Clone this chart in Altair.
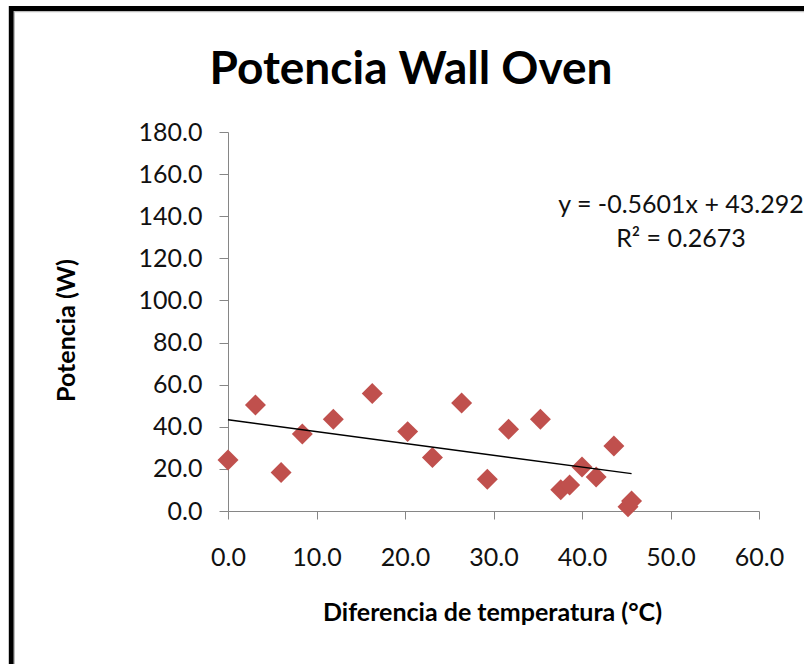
import altair as alt
import pandas as pd

# Measured temperature difference (°C) and oven power (W)
temp_diff = [0.0, 3.1, 6.0, 8.4, 11.9, 16.3, 20.3, 23.1, 26.4, 29.3,
             31.7, 35.3, 37.6, 38.6, 40.0, 41.6, 43.6, 45.2, 45.6]
power = [24.2, 50.3, 18.3, 36.6, 43.6, 55.8, 37.7, 25.4, 51.3, 15.1,
         38.8, 43.6, 10.1, 12.4, 20.9, 16.2, 30.9, 2.0, 4.7]

# Linear trendline coefficients
slope = -0.5601
intercept = 43.292
r_squared = 0.2673

x_ticks = [0, 10, 20, 30, 40, 50, 60]
y_ticks = [0, 20, 40, 60, 80, 100, 120, 140, 160, 180]

title_text = "Potencia Wall Oven"
x_title = "Diferencia de temperatura (°C)"
y_title = "Potencia (W)"

FONT = "Lato"
AXIS_GRAY = "#868686"
MARKER_RED = "#C0504D"

W, H = 531, 379
PAD_L, PAD_T = 228, 132

points = pd.DataFrame({"dt": temp_diff, "p": power})
trend_x = [min(temp_diff), max(temp_diff)]
trend = pd.DataFrame({"dt": trend_x, "p": [slope * v + intercept for v in trend_x]})

x_enc = alt.X(
    "dt:Q",
    scale=alt.Scale(domain=[0, 60], nice=False, zero=False),
    axis=alt.Axis(
        values=x_ticks, format=".1f", title=x_title,
        tickSize=8, labelPadding=26,
        titleX=264, titleY=101, titleAlign="center", titleBaseline="middle",
    ),
)
y_enc = alt.Y(
    "p:Q",
    scale=alt.Scale(domain=[0, 180], nice=False, zero=False),
    axis=alt.Axis(
        values=y_ticks, format=".1f", title=y_title,
        tickSize=9, labelPadding=17,
        titleX=-162, titleY=198, titleAngle=-90,
        titleAlign="center", titleBaseline="middle",
    ),
)

scatter = alt.Chart(points).mark_point(
    shape="diamond", filled=True, size=440, color=MARKER_RED, opacity=1
).encode(x=x_enc, y=y_enc)

trendline = alt.Chart(trend).mark_line(color="black", strokeWidth=1.5).encode(
    x=x_enc, y=y_enc
)

one = pd.DataFrame({"k": [0]})

equation = alt.Chart(one).mark_text(
    font=FONT, fontSize=25, align="center", baseline="middle", color="#111111"
).encode(
    x=alt.value(453), y=alt.value(73),
    text=alt.value(f"y = {slope:.4f}x + {intercept:.3f}"),
)
r2_label = alt.Chart(one).mark_text(
    font=FONT, fontSize=25, align="center", baseline="middle", color="#111111"
).encode(
    x=alt.value(453), y=alt.value(107),
    text=alt.value(f"R² = {r_squared:.4f}"),
)

heading = alt.Chart(one).mark_text(
    font=FONT, fontSize=46, fontWeight="bold", align="center",
    baseline="alphabetic", color="black"
).encode(
    x=alt.value(411 - PAD_L), y=alt.value(83.5 - PAD_T),
    text=alt.value(title_text),
)

# Frame around the whole chart area
frame_shadow = alt.Chart(one).mark_rect(
    fill=None, stroke="#BBBBBB", strokeWidth=1.5
).encode(
    x=alt.value(14.2 - PAD_L), x2=alt.value(900),
    y=alt.value(11.6 - PAD_T), y2=alt.value(700),
)
frame = alt.Chart(one).mark_rect(
    fill=None, stroke="black", strokeWidth=4.8
).encode(
    x=alt.value(11.2 - PAD_L), x2=alt.value(900),
    y=alt.value(8.5 - PAD_T), y2=alt.value(700),
)

chart = alt.layer(
    frame_shadow, frame, heading, scatter, trendline, equation, r2_label
).properties(
    width=W, height=H,
    autosize=alt.AutoSizeParams(type="none"),
    padding={"left": PAD_L, "top": PAD_T, "right": 804 - PAD_L - W, "bottom": 664 - PAD_T - H},
    background="white",
).configure_view(
    stroke=None
).configure_axis(
    grid=False,
    domainColor=AXIS_GRAY, tickColor=AXIS_GRAY, domainWidth=1, tickWidth=1,
    labelFont=FONT, labelFontSize=25, labelColor="#111111",
    titleFont=FONT, titleFontSize=25, titleFontWeight="bold", titleColor="black",
    labelFlush=False, labelOverlap=False,
)

chart.save("out.html", embed_options={"renderer": "svg", "actions": False})
